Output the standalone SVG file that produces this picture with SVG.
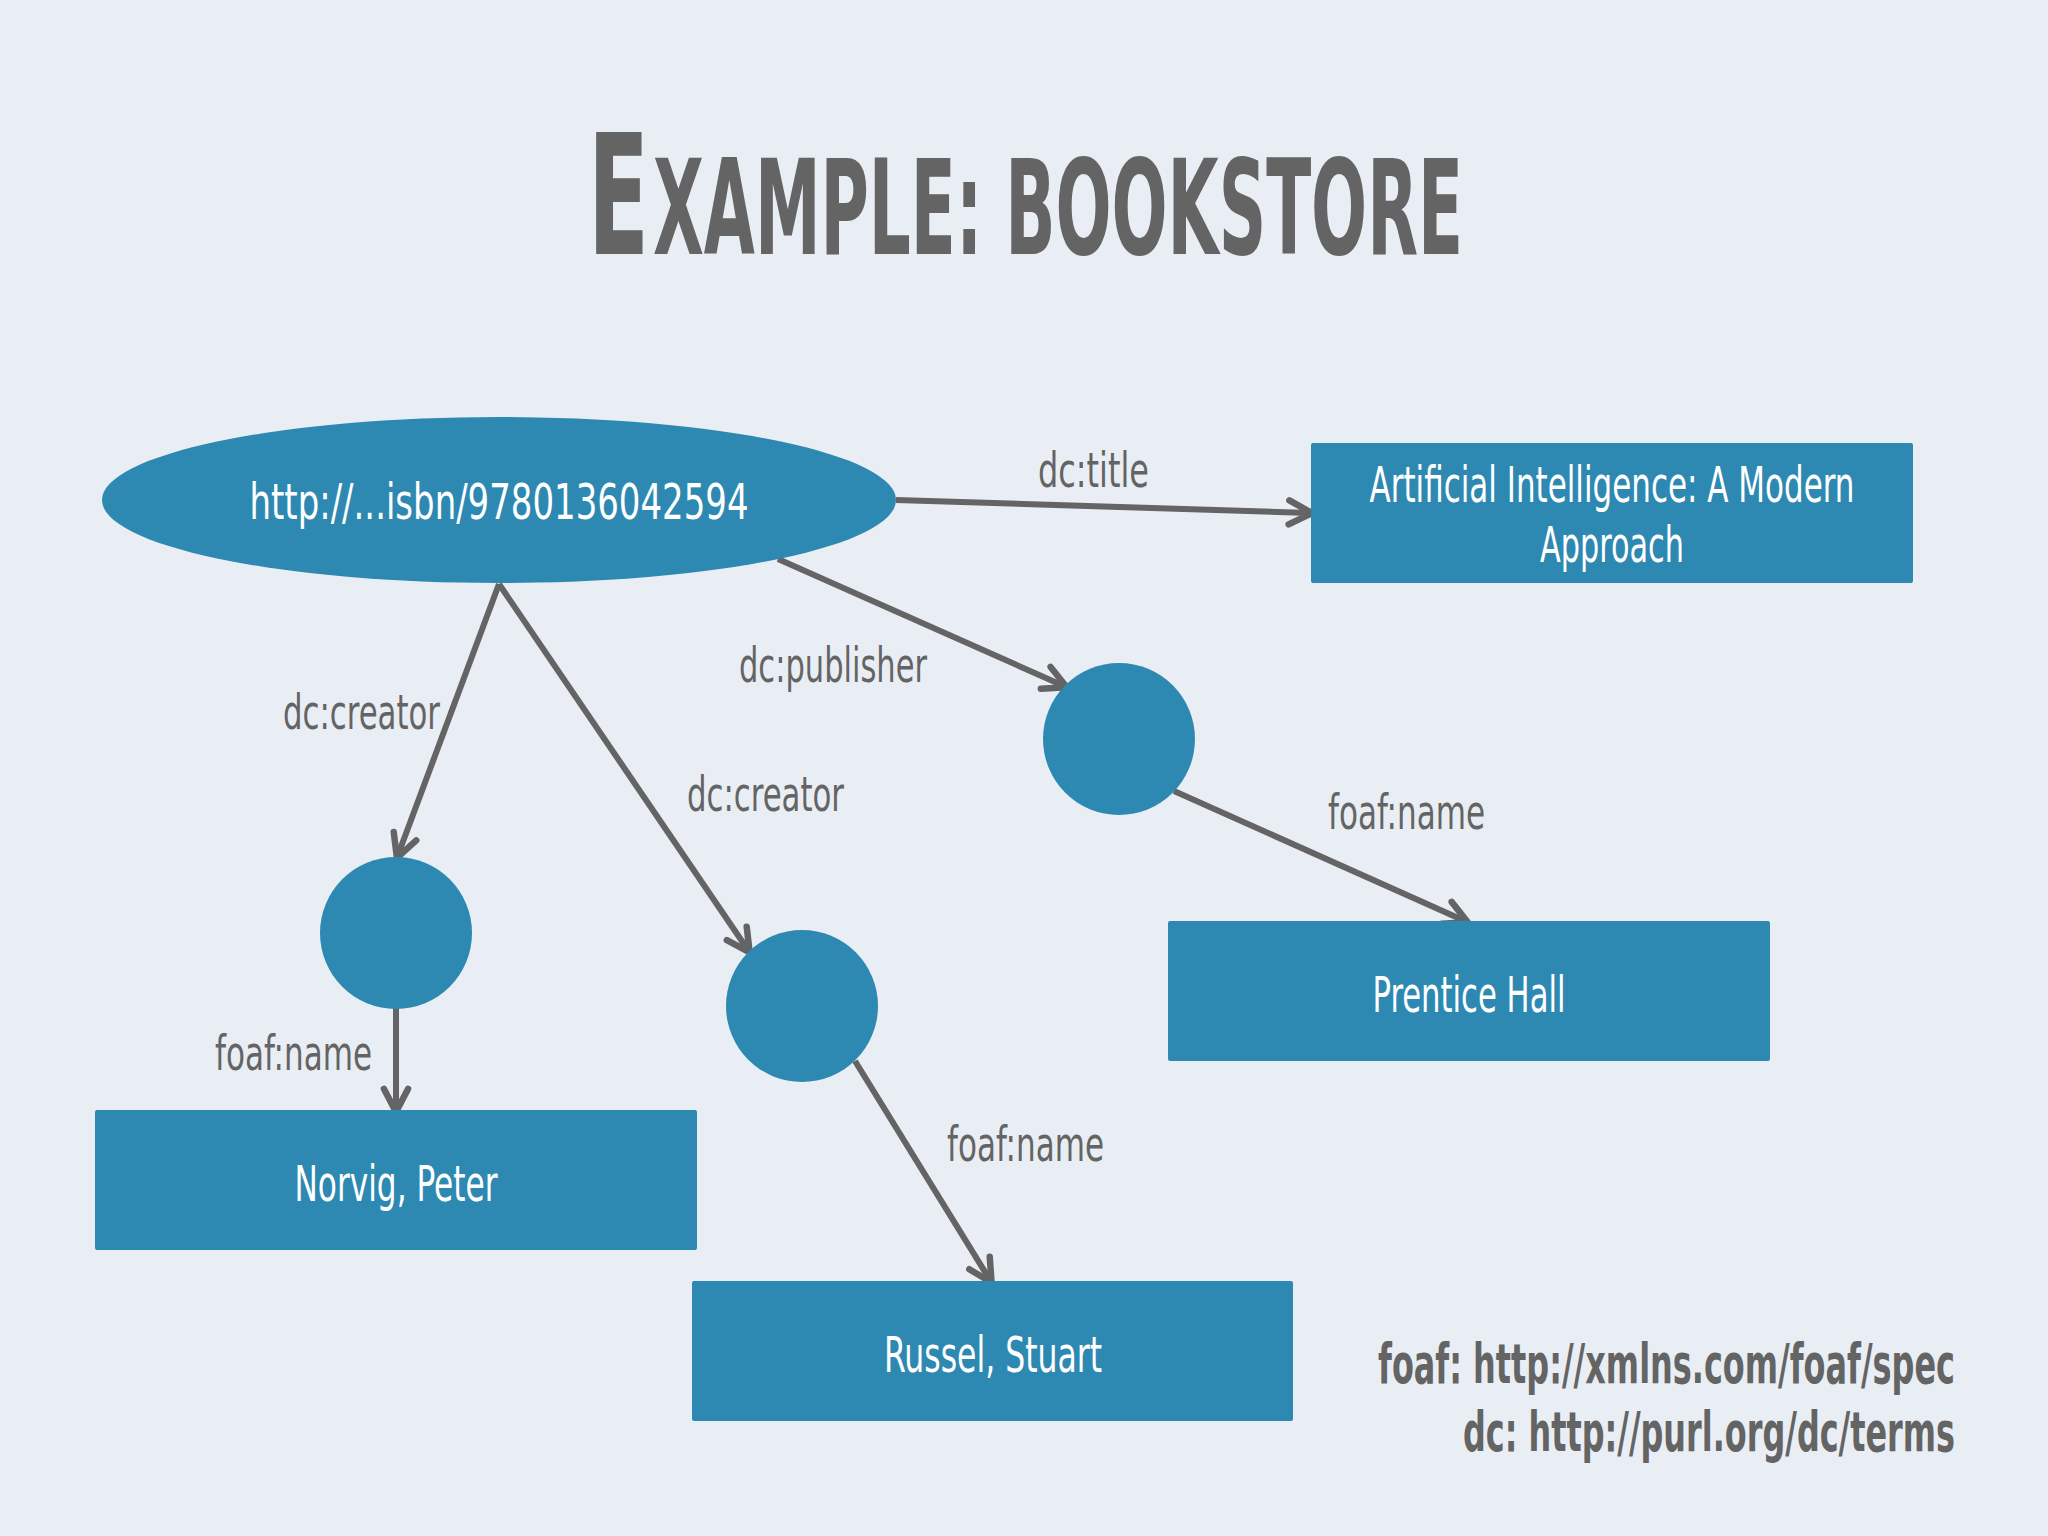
<svg xmlns="http://www.w3.org/2000/svg" width="2048" height="1536" viewBox="0 0 2048 1536">
<defs>
<style>
.bg{fill:#E9EEF5}
.node{fill:#2E89B2}
.ntext{font-family:"Liberation Sans Narrow","DejaVu Sans Condensed","Liberation Sans",sans-serif;font-size:50px;fill:#FFFFFF;text-anchor:middle}
.lbl{font-family:"Liberation Sans Narrow","DejaVu Sans Condensed","Liberation Sans",sans-serif;font-size:48px;fill:#646464}
.edge{stroke:#646464;stroke-width:6;fill:none}
.title{font-family:"Liberation Sans Narrow","DejaVu Sans Condensed","Liberation Sans",sans-serif;font-weight:bold;fill:#646464}
.foot{font-family:"Liberation Sans Narrow","DejaVu Sans Condensed","Liberation Sans",sans-serif;font-weight:bold;font-size:56px;fill:#646464}
</style>
<marker id="arr" viewBox="-30 -20 40 40" refX="-3" refY="0" markerWidth="40" markerHeight="40" markerUnits="userSpaceOnUse" orient="auto">
<path d="M-23,-12 L0,0 L-23,12" fill="none" stroke="#646464" stroke-width="6.5" stroke-linecap="round" stroke-linejoin="round"/>
</marker>
</defs>
<rect class="bg" x="0" y="0" width="2048" height="1536"/>
<text class="title" x="588" y="254" font-size="168" textLength="61" lengthAdjust="spacingAndGlyphs">E</text>
<text class="title" x="653" y="254" font-size="132" textLength="810" lengthAdjust="spacingAndGlyphs">XAMPLE: BOOKSTORE</text>

<g id="connectors">
<line class="edge" x1="896" y1="500" x2="1309" y2="513" marker-end="url(#arr)"/>
<line class="edge" x1="778" y1="559" x2="1064" y2="686" marker-end="url(#arr)"/>
<line class="edge" x1="499" y1="584" x2="398" y2="855" marker-end="url(#arr)"/>
<line class="edge" x1="499" y1="584" x2="748" y2="950" marker-end="url(#arr)"/>
<line class="edge" x1="396" y1="1008" x2="396" y2="1109" marker-end="url(#arr)"/>
<line class="edge" x1="855" y1="1061" x2="990" y2="1280" marker-end="url(#arr)"/>
<line class="edge" x1="1174" y1="791" x2="1465" y2="921" marker-end="url(#arr)"/>
<text class="lbl" x="1038" y="487" textLength="111" lengthAdjust="spacingAndGlyphs">dc:title</text>
<text class="lbl" x="739" y="682" textLength="188" lengthAdjust="spacingAndGlyphs">dc:publisher</text>
<text class="lbl" x="283" y="729" textLength="157" lengthAdjust="spacingAndGlyphs">dc:creator</text>
<text class="lbl" x="687" y="811" textLength="157" lengthAdjust="spacingAndGlyphs">dc:creator</text>
<text class="lbl" x="215" y="1070" textLength="157" lengthAdjust="spacingAndGlyphs">foaf:name</text>
<text class="lbl" x="947" y="1161" textLength="157" lengthAdjust="spacingAndGlyphs">foaf:name</text>
<text class="lbl" x="1328" y="829" textLength="157" lengthAdjust="spacingAndGlyphs">foaf:name</text>
</g>

<g id="book">
<ellipse class="node" cx="499" cy="500" rx="397" ry="83"/>
<text class="ntext" x="499" y="519" textLength="499" lengthAdjust="spacingAndGlyphs">http://...isbn/9780136042594</text>
</g>
<g id="title">
<rect class="node" x="1311" y="443" width="602" height="140" rx="2"/>
<text class="ntext" x="1612" y="502" textLength="485" lengthAdjust="spacingAndGlyphs">Artificial Intelligence: A Modern</text>
<text class="ntext" x="1612" y="562" textLength="144" lengthAdjust="spacingAndGlyphs">Approach</text>
</g>
<g id="publisher">
<circle class="node" cx="1119" cy="739" r="76"/>
</g>
<g id="creator1">
<circle class="node" cx="396" cy="933" r="76"/>
</g>
<g id="creator2">
<circle class="node" cx="802" cy="1006" r="76"/>
</g>
<g id="prentice">
<rect class="node" x="1168" y="921" width="602" height="140" rx="2"/>
<text class="ntext" x="1469" y="1012" textLength="193" lengthAdjust="spacingAndGlyphs">Prentice Hall</text>
</g>
<g id="norvig">
<rect class="node" x="95" y="1110" width="602" height="140" rx="2"/>
<text class="ntext" x="396" y="1201" textLength="203" lengthAdjust="spacingAndGlyphs">Norvig, Peter</text>
</g>
<g id="russel">
<rect class="node" x="692" y="1281" width="601" height="140" rx="2"/>
<text class="ntext" x="993" y="1372" textLength="218" lengthAdjust="spacingAndGlyphs">Russel, Stuart</text>
</g>

<text class="foot" x="1378" y="1383" textLength="577" lengthAdjust="spacingAndGlyphs">foaf: http://xmlns.com/foaf/spec</text>
<text class="foot" x="1463" y="1451" textLength="492" lengthAdjust="spacingAndGlyphs">dc: http://purl.org/dc/terms</text>
</svg>
